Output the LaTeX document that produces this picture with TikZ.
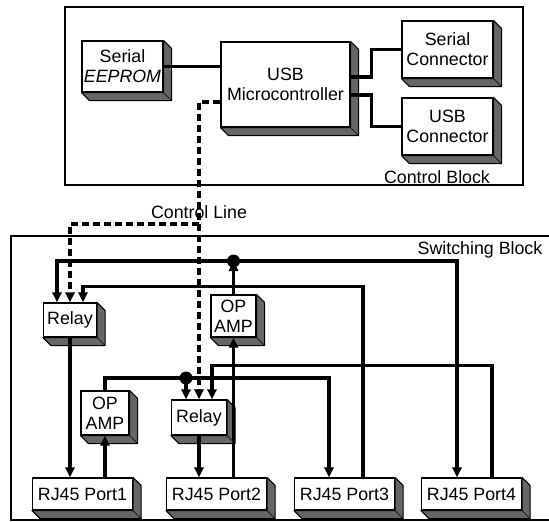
\documentclass[tikz,border=0pt]{standalone}
\usepackage{fontspec}
\setmainfont{Liberation Sans}
\usetikzlibrary{arrows.meta}
\definecolor{shadefill}{gray}{0.40}
\newcommand\boxextrude[1]{%
  \filldraw[fill=shadefill, draw=black, line width=1pt, line join=round]
    (#1.north east) -- ([shift={(8pt,-8pt)}]#1.north east)
    -- ([shift={(8pt,-8pt)}]#1.south east)
    -- ([shift={(8pt,-8pt)}]#1.south west)
    -- (#1.south west) -- (#1.south east) -- cycle;
  \draw[line width=0.7pt] (#1.south east) -- ([shift={(8pt,-8pt)}]#1.south east);}
\tikzset{
  box3d/.style={draw, line width=1.1pt, fill=white, align=center, inner sep=0pt,
    append after command={\pgfextra{\boxextrude{\tikzlastnode}}}},
  wire/.style={line width=3.2pt},
  bus/.style={line width=3.2pt},
  ctl/.style={line width=3.2pt, dash pattern=on 7pt off 4pt},
  blockline/.style={line width=1.4pt},
  lbl/.style={inner sep=0pt},
  >={Triangle[length=10pt,width=9pt]}
}
\begin{document}
\begin{tikzpicture}[x=1pt,y=-1pt, font=\fontsize{17.8}{20}\selectfont]
\useasboundingbox (0,0) rectangle (549,522);
% blocks
\draw[blockline] (65,7) rectangle (523,185);
\draw[blockline] (549,236) -- (11,236) -- (11,520) -- (549,520);
\node[lbl] (ctrllabel) at (437,177) {Control Block};
\node[lbl] (swlabel) at (480,250) {Switching Block};
\node[lbl] (cline) at (199,212) {Control Line};
% control block boxes
\node[box3d, minimum width=81pt, minimum height=51pt] (eeprom) at (122.5,66.5) {Serial\\\textit{EEPROM}};
\node[box3d, minimum width=129pt, minimum height=85pt] (micro) at (285.5,84.5) {USB\\Microcontroller};
\node[box3d, minimum width=91pt, minimum height=57pt] (serconn) at (447.5,49.5) {Serial\\Connector};
\node[box3d, minimum width=91pt, minimum height=57pt] (usbconn) at (447.5,126.5) {USB\\Connector};
% switching block boxes
\node[box3d, minimum width=53pt, minimum height=34pt] (relay1) at (70,320) {Relay};
\node[box3d, minimum width=55pt, minimum height=35pt] (relay2) at (199,417.5) {Relay};
\node[box3d, minimum width=45pt, minimum height=42pt] (op2) at (233.5,316) {OP\\AMP};
\node[box3d, minimum width=48pt, minimum height=44pt] (op1) at (105,413) {OP\\AMP};
\node[box3d, minimum width=100pt, minimum height=32pt] (port1) at (82.5,494) {RJ45 Port1};
\node[box3d, minimum width=100pt, minimum height=32pt] (port2) at (216.5,494) {RJ45 Port2};
\node[box3d, minimum width=100pt, minimum height=32pt] (port3) at (344.5,494) {RJ45 Port3};
\node[box3d, minimum width=100pt, minimum height=32pt] (port4) at (471.5,494) {RJ45 Port4};
\coordinate (dotA) at (233.5,261);
\coordinate (dotB) at (186,378);
\coordinate (cbr) at (199,224);
% control block connectors
\draw[wire] (eeprom.east) -- (eeprom.east -| micro.west);
\draw[wire] ([yshift=7.5pt]micro.east) -- ++(21,0) |- (serconn.west);
\draw[wire] ([yshift=-10.5pt]micro.east) -- ++(21,0) |- (usbconn.west);
% control line
\draw[ctl,->] ([yshift=-17.5pt]micro.west) -| (relay2.north);
\draw[ctl,->] (cbr) -| (relay1.north);
% buses
\draw[bus,->] (op2.north) -- (dotA);
\draw[bus,->] (dotA) -| ([xshift=-13pt]relay1.north);
\draw[bus,->] (dotA) -| ([xshift=-14.5pt]port4.north);
\draw[bus,->] ([xshift=18.5pt]port3.north) -- ++(0,-191) -| ([xshift=13pt]relay1.north);
\draw[bus,->] ([xshift=20.5pt]port4.north) -- ++(0,-112) -| ([xshift=13pt]relay2.north);
\draw[bus] (op1.north) |- (dotB);
\draw[bus,->] (dotB) -- ([xshift=-13pt]relay2.north);
\draw[bus,->] (dotB) -| ([xshift=-15.5pt]port3.north);
\fill (dotA) circle (6.5pt);
\fill (dotB) circle (6.5pt);
\draw[bus,->] (relay1.south) -- (relay1.south |- port1.north);
\draw[bus,->] (port1.north -| op1.south) -- (op1.south);
\draw[bus,->] (relay2.south) -- (relay2.south |- port2.north);
\draw[bus,->] (port2.north -| op2.south) -- (op2.south);
\end{tikzpicture}
\end{document}
